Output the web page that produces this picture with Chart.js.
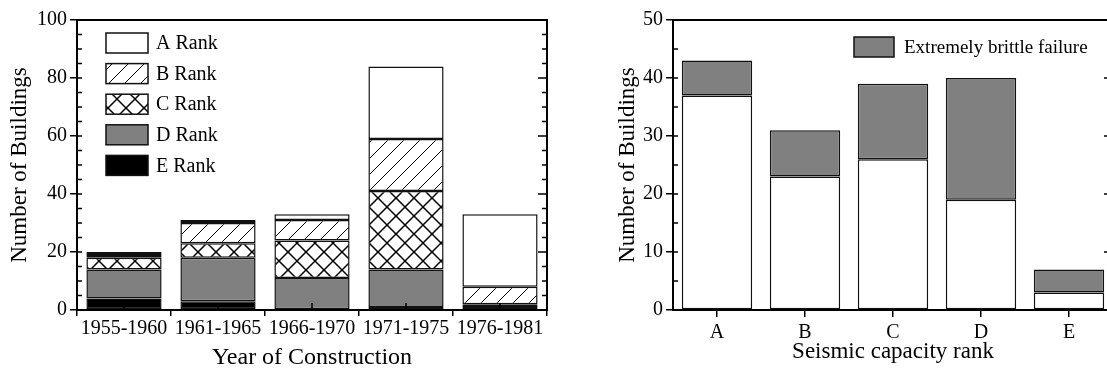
<!DOCTYPE html>
<html>
<head>
<meta charset="utf-8">
<script src="https://cdn.jsdelivr.net/npm/chart.js@4.4.1/dist/chart.umd.min.js"></script>
<style>
  html, body { margin: 0; padding: 0; background: #fff; overflow: hidden; }
  .box { position: absolute; top: 0; height: 376px; }
  #left { left: 0; width: 560px; }
  #right { left: 560px; width: 560px; }
</style>
</head>
<body>
<div class="box" id="left"><canvas id="yearChart"></canvas></div>
<div class="box" id="right"><canvas id="rankChart"></canvas></div>
<script>
// left chart: buildings per construction period, split by seismic rank
var years = ['1955-1960', '1961-1965', '1966-1970', '1971-1975', '1976-1981'];
var rankE = [4, 3, 0, 1, 1];
var rankD = [10, 15, 11, 13, 0];
var rankC = [4, 5, 13, 27, 1];
var rankB = [1, 7, 7, 18, 6];
var rankA = [1, 1, 2, 25, 25];
var yearTicks = [0, 20, 40, 60, 80, 100];

// right chart: buildings per rank, with extremely brittle failure share
var ranks = ['A', 'B', 'C', 'D', 'E'];
var notBrittle = [37, 23, 26, 19, 3];
var brittle = [6, 8, 13, 21, 4];
var rankTicks = [0, 10, 20, 30, 40, 50];

var serif = '"Liberation Serif", "Times New Roman", serif';
Chart.defaults.font.family = serif;
Chart.defaults.color = '#000';

function hatch(cross, size, width) {
    var c = document.createElement('canvas');
    c.width = size; c.height = size;
    var g = c.getContext('2d');
    g.fillStyle = '#fff';
    g.fillRect(0, 0, size, size);
    g.strokeStyle = '#000';
    g.lineWidth = width;
    g.beginPath();
    g.moveTo(-2, size + 2); g.lineTo(size + 2, -2);
    g.moveTo(-2, 2); g.lineTo(2, -2);
    g.moveTo(size - 2, size + 2); g.lineTo(size + 2, size - 2);
    if (cross) {
        g.moveTo(-2, -2); g.lineTo(size + 2, size + 2);
        g.moveTo(size - 2, -2); g.lineTo(size + 2, 2);
        g.moveTo(-2, size - 2); g.lineTo(2, size + 2);
    }
    g.stroke();
    return g.createPattern(c, 'repeat');
}

var framePlugin = {
    id: 'frame',
    afterDatasetsDraw: function (chart, args, opts) {
        var a = chart.chartArea, ctx = chart.ctx;
        var y = chart.scales.y, x = chart.scales.x;
        ctx.save();
        ctx.strokeStyle = '#000';
        ctx.lineWidth = 1.5;
        ctx.beginPath();
        for (var v = y.min; v <= y.max; v += opts.minor) {
            var py = y.getPixelForValue(v);
            var major = v % opts.major === 0;
            ctx.moveTo(a.left, py); ctx.lineTo(a.left + 5, py);
            ctx.moveTo(a.right, py); ctx.lineTo(a.right - (major ? 9 : 5), py);
        }
        if (opts.centerTicks) {
            for (var i = 0; i < chart.data.labels.length; i++) {
                var px = x.getPixelForValue(i);
                ctx.moveTo(px, a.bottom); ctx.lineTo(px, a.bottom - 7);
            }
        }
        ctx.stroke();
        ctx.lineWidth = 2;
        ctx.strokeRect(a.left, a.top, a.right - a.left, a.bottom - a.top);
        ctx.restore();
    }
};

var boxLegend = {
    id: 'boxLegend',
    afterDraw: function (chart, args, opts) {
        var ctx = chart.ctx;
        ctx.save();
        ctx.font = opts.size + 'px ' + serif;
        ctx.textBaseline = 'middle';
        opts.items.forEach(function (idx, i) {
            var ds = chart.data.datasets[idx];
            var top = opts.y + i * opts.step;
            ctx.fillStyle = ds.backgroundColor;
            ctx.fillRect(opts.x, top, opts.w, opts.h);
            ctx.strokeStyle = '#111';
            ctx.lineWidth = 1.5;
            ctx.strokeRect(opts.x, top, opts.w, opts.h);
            ctx.fillStyle = '#000';
            ctx.fillText(ds.label, opts.x + opts.w + opts.gap, top + opts.h / 2 + 1);
        });
        ctx.restore();
    }
};

function bar(label, data, fill) {
    return {
        label: label,
        data: data,
        backgroundColor: fill,
        borderColor: '#111',
        borderWidth: 1.5,
        borderSkipped: false,
        barPercentage: 0.8,
        categoryPercentage: 1.0
    };
}

function yAxis(max, step, ticks, width, titlePad) {
    return {
        stacked: true,
        min: 0,
        max: max,
        afterBuildTicks: function (s) { s.ticks = ticks.map(function (v) { return { value: v }; }); },
        ticks: { font: { size: 20 }, color: '#000', padding: 3 },
        grid: { drawOnChartArea: false, tickLength: 7, color: '#000', lineWidth: 1.5 },
        border: { display: false },
        title: { display: true, text: 'Number of Buildings', font: { size: 23 }, color: '#000', padding: { top: titlePad, bottom: 0 } },
        afterFit: function (s) { s.width = width; }
    };
}

var ctxL = document.getElementById('yearChart').getContext('2d');
var yearChart = new Chart(ctxL, {
    type: 'bar',
    data: {
        labels: years,
        datasets: [
            bar('E Rank', rankE, '#000'),
            bar('D Rank', rankD, '#808080'),
            bar('C Rank', rankC, hatch(true, 18, 1.5)),
            bar('B Rank', rankB, hatch(false, 16, 1)),
            bar('A Rank', rankA, '#fff')
        ]
    },
    options: {
        responsive: true,
        maintainAspectRatio: false,
        animation: false,
        layout: { padding: { top: 20, right: 13, left: 0, bottom: 0 } },
        scales: {
            x: {
                stacked: true,
                grid: { drawOnChartArea: false, offset: true, tickLength: 6, color: '#000', lineWidth: 1.5 },
                border: { display: false },
                ticks: { font: { size: 20 }, color: '#000', padding: 1, maxRotation: 0 },
                title: { display: true, text: 'Year of Construction', font: { size: 24 }, color: '#000', padding: { top: 0, bottom: 4 } },
                afterFit: function (s) { s.height = 66; }
            },
            y: yAxis(100, 20, yearTicks, 77, 6)
        },
        plugins: {
            legend: { display: false },
            tooltip: { enabled: false },
            frame: { minor: 5, major: 20, centerTicks: true },
            boxLegend: { items: [4, 3, 2, 1, 0], x: 106, y: 33, w: 42, h: 20, step: 30.6, gap: 8, size: 20 }
        }
    },
    plugins: [framePlugin, boxLegend]
});

var ctxR = document.getElementById('rankChart').getContext('2d');
var rankChart = new Chart(ctxR, {
    type: 'bar',
    data: {
        labels: ranks,
        datasets: [
            bar('Other', notBrittle, '#fff'),
            bar('Extremely brittle failure', brittle, '#808080')
        ]
    },
    options: {
        responsive: true,
        maintainAspectRatio: false,
        animation: false,
        layout: { padding: { top: 20, right: 7, left: 0, bottom: 0 } },
        scales: {
            x: {
                stacked: true,
                grid: { drawOnChartArea: false, offset: false, tickLength: 7, color: '#000', lineWidth: 1.5 },
                border: { display: false },
                ticks: { font: { size: 20 }, color: '#000', padding: 4, maxRotation: 0 },
                title: { display: true, text: 'Seismic capacity rank', font: { size: 23 }, color: '#000', padding: { top: 0, bottom: 10 } },
                afterFit: function (s) { s.height = 66; }
            },
            y: yAxis(50, 10, rankTicks, 113, 54)
        },
        plugins: {
            legend: { display: false },
            tooltip: { enabled: false },
            frame: { minor: 5, major: 10, centerTicks: false },
            boxLegend: { items: [1], x: 294, y: 37, w: 40, h: 20, step: 30, gap: 10, size: 19 }
        }
    },
    plugins: [framePlugin, boxLegend]
});
</script>
</body>
</html>
